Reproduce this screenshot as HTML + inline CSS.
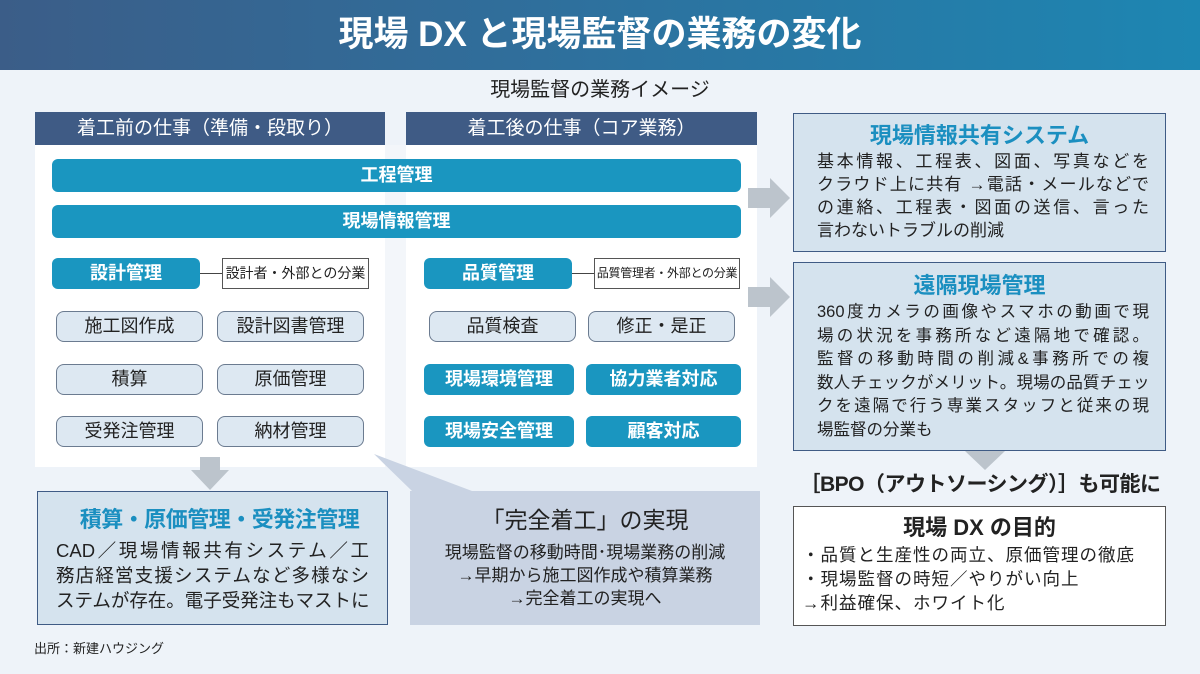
<!DOCTYPE html>
<html><head><meta charset="utf-8"><style>
*{margin:0;padding:0;box-sizing:border-box}
body{width:1200px;height:674px;background:#eef3f9;font-family:"Liberation Sans","Noto Sans CJK JP",sans-serif;position:relative;overflow:hidden;color:#222}
.a{position:absolute}
.hdr{left:0;top:0;width:1200px;height:70px;background:linear-gradient(90deg,#3b5d88 0%,#2f6f9c 45%,#1d86b2 100%);color:#fff;font-weight:bold;font-size:35px;text-align:center;line-height:70px}
.colh{top:112px;height:33px;background:#3f5b85;color:#fff;font-size:19px;text-align:center;line-height:33px}
.panel{top:145px;height:322px;background:#fff}
.bar{background:#1a96c0;color:#fff;font-weight:bold;font-size:18px;text-align:center;border-radius:6px}
.gb{height:31px;width:147px;background:#dde8f2;border:1.5px solid #6b7b90;border-radius:8px;text-align:center;line-height:28px;font-size:18px}
.bb{height:31px;width:148px;background:#1a96c0;color:#fff;font-weight:bold;border-radius:6px;text-align:center;line-height:31px;font-size:18px}
.note{background:#fff;border:1px solid #555;font-size:14px;text-align:center;line-height:29px;height:31px;white-space:nowrap;overflow:hidden}
.rb{left:793px;width:373px;background:#d5e3ee;border:1.5px solid #3f5b85}
.rt{color:#1b8fc0;font-size:22px;font-weight:bold;text-align:center}
.rbody{font-size:17px;line-height:23px;padding:0 0 0 23px;white-space:nowrap}
.j{width:332px;text-align:justify;text-align-last:justify}
.ll{width:313px;text-align:justify;text-align-last:justify}
</style></head><body>
<div class="a hdr">現場 DX と現場監督の業務の変化</div>
<div class="a" style="left:0;top:77px;width:1200px;text-align:center;font-size:20px;line-height:26px">現場監督の業務イメージ</div>

<div class="a colh" style="left:35px;width:350px">着工前の仕事（準備・段取り）</div>
<div class="a colh" style="left:406px;width:351px">着工後の仕事（コア業務）</div>
<div class="a panel" style="left:35px;width:350px"></div>
<div class="a panel" style="left:406px;width:351px"></div>
<div class="a" style="left:385px;top:145px;width:21px;height:322px;background:#f3f6fa"></div>

<div class="a bar" style="left:52px;top:159px;width:689px;height:33px;line-height:33px">工程管理</div>
<div class="a bar" style="left:52px;top:205px;width:689px;height:33px;line-height:33px">現場情報管理</div>

<div class="a bb" style="left:52px;top:258px">設計管理</div>
<div class="a" style="left:200px;top:273px;width:22px;height:1px;background:#444"></div>
<div class="a note" style="left:222px;top:258px;width:147px">設計者・外部との分業</div>
<div class="a bb" style="left:424px;top:258px">品質管理</div>
<div class="a" style="left:572px;top:273px;width:22px;height:1px;background:#444"></div>
<div class="a note" style="left:594px;top:258px;width:146px;font-size:12px;letter-spacing:-0.3px">品質管理者・外部との分業</div>

<div class="a gb" style="left:56px;top:311px">施工図作成</div>
<div class="a gb" style="left:217px;top:311px">設計図書管理</div>
<div class="a gb" style="left:56px;top:364px">積算</div>
<div class="a gb" style="left:217px;top:364px">原価管理</div>
<div class="a gb" style="left:56px;top:416px">受発注管理</div>
<div class="a gb" style="left:217px;top:416px">納材管理</div>

<div class="a gb" style="left:429px;top:311px">品質検査</div>
<div class="a gb" style="left:588px;top:311px">修正・是正</div>
<div class="a bb" style="left:424px;top:364px;width:150px">現場環境管理</div>
<div class="a bb" style="left:586px;top:364px;width:155px">協力業者対応</div>
<div class="a bb" style="left:424px;top:416px;width:150px">現場安全管理</div>
<div class="a bb" style="left:586px;top:416px;width:155px">顧客対応</div>

<svg class="a" style="left:0;top:0" width="1200" height="674">
<polygon points="748,188 770,188 770,178 790,198 770,218 770,208 748,208" fill="#bcc4cc"/>
<polygon points="748,287 770,287 770,277 790,297 770,317 770,307 748,307" fill="#bcc4cc"/>
<polygon points="200,457 220,457 220,470 229,470 210,490 191,470 200,470" fill="#bcc4cc"/>
<polygon points="374,454 412,491 472,491" fill="#c9d3e3"/>
<polygon points="965,451 1005,451 985,470" fill="#bcc4cc"/>
</svg>

<div class="a rb" style="top:113px;height:139px">
<div class="rt" style="margin-top:8px;line-height:28px">現場情報共有システム</div>
<div class="rbody"><div class="j">基本情報、工程表、図面、写真などを</div><div class="j">クラウド上に共有 →電話・メールなどで</div><div class="j">の連絡、工程表・図面の送信、言った</div><div>言わないトラブルの削減</div></div>
</div>
<div class="a rb" style="top:262px;height:189px">
<div class="rt" style="margin-top:8px;line-height:30px">遠隔現場管理</div>
<div class="rbody" style="line-height:23.5px;font-size:16.5px"><div class="j">360度カメラの画像やスマホの動画で現</div><div class="j">場の状況を事務所など遠隔地で確認。</div><div class="j">監督の移動時間の削減&amp;事務所での複</div><div class="j" style="letter-spacing:-0.5px">数人チェックがメリット。現場の品質チェッ</div><div class="j">クを遠隔で行う専業スタッフと従来の現</div><div>場監督の分業も</div></div>
</div>
<div class="a" style="left:790px;top:470px;width:380px;text-align:center;font-size:21px;font-weight:bold;line-height:30px;white-space:nowrap;letter-spacing:-0.5px">［BPO（アウトソーシング）］も可能に</div>
<div class="a" style="left:793px;top:506px;width:373px;height:120px;background:#fff;border:1.5px solid #555">
<div style="text-align:center;font-size:22px;font-weight:bold;line-height:30px;margin-top:6px">現場 DX の目的</div>
<div style="font-size:17.5px;line-height:24px;padding-left:8px;letter-spacing:1px;white-space:nowrap">・品質と生産性の両立、原価管理の徹底<br>・現場監督の時短／やりがい向上<br>→利益確保、ホワイト化</div>
</div>

<div class="a" style="left:37px;top:491px;width:351px;height:134px;background:#d5e3ee;border:1.5px solid #3f5b85">
<div style="text-align:center;color:#1b8fc0;font-size:22px;font-weight:bold;line-height:30px;margin-top:13px;padding-left:14px;white-space:nowrap;letter-spacing:-0.5px">積算・原価管理・受発注管理</div>
<div style="font-size:18.5px;line-height:25px;padding:3px 0 0 18px;white-space:nowrap"><div class="ll">CAD／現場情報共有システム／工</div><div class="ll">務店経営支援システムなど多様なシ</div><div class="ll" style="letter-spacing:-0.5px">ステムが存在。電子受発注もマストに</div></div>
</div>
<div class="a" style="left:410px;top:491px;width:350px;height:134px;background:#c9d3e3;text-align:center">
<div style="font-size:23px;line-height:30px;margin-top:14px">「完全着工」の実現</div>
<div style="font-size:17px;line-height:23px;margin-top:6px;white-space:nowrap">現場監督の移動時間･現場業務の削減<br>→早期から施工図作成や積算業務<br>→完全着工の実現へ</div>
</div>
<div class="a" style="left:34px;top:638px;font-size:13px">出所：新建ハウジング</div>
</body></html>
